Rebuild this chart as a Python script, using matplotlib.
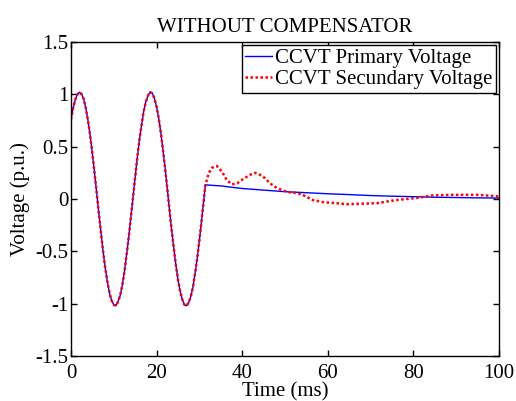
import matplotlib
matplotlib.use("Agg")
import matplotlib.pyplot as plt

plt.rcParams['font.family'] = ['Liberation Serif', 'DejaVu Serif']
plt.rcParams['font.size'] = 15

# Pre-fault waveform (both signals coincide), time in ms, voltage in p.u.
t_pre = [0.0, 0.5, 1.0, 1.5, 2.0, 2.5, 3.0, 3.5, 4.0, 4.5, 5.0, 5.5, 6.0, 6.5,
         7.0, 7.5, 8.0, 8.5, 9.0, 9.5, 10.0, 10.5, 11.0, 11.5, 12.0, 12.5,
         13.0, 13.5, 14.0, 14.5, 15.0, 15.5, 16.0, 16.5, 17.0, 17.5, 18.0,
         18.5, 19.0, 19.5, 20.0, 20.5, 21.0, 21.5, 22.0, 22.5, 23.0, 23.5,
         24.0, 24.5, 25.0, 25.5, 26.0, 26.5, 27.0, 27.5, 28.0, 28.5, 29.0,
         29.5, 30.0, 30.5, 31.0]
v_pre = [0.76, 0.87, 0.95, 1.00, 1.02, 1.00, 0.95, 0.86, 0.74, 0.60, 0.43,
         0.25, 0.06, -0.135, -0.32, -0.50, -0.66, -0.79, -0.90, -0.97, -1.01,
         -1.02, -0.98, -0.92, -0.82, -0.69, -0.53, -0.36, -0.17, 0.02, 0.21,
         0.40, 0.57, 0.71, 0.84, 0.93, 0.99, 1.02, 1.01, 0.96, 0.88, 0.77,
         0.63, 0.465, 0.29, 0.10, -0.10, -0.29, -0.465, -0.63, -0.77, -0.88,
         -0.96, -1.01, -1.02, -0.99, -0.93, -0.84, -0.71, -0.565, -0.395,
         -0.21, -0.02]

# Post-fault primary voltage
t_prim = [31.4, 35, 40, 45, 50, 55, 60, 65, 70, 75, 80, 85, 90, 95, 100]
v_prim = [0.135, 0.125, 0.10, 0.085, 0.07, 0.06, 0.05, 0.042, 0.033, 0.027,
          0.022, 0.017, 0.014, 0.011, 0.009]

# Post-fault secondary voltage
t_sec = [31.4, 32.2, 33.0, 34.1, 35.3, 36.4, 37.6, 38.8, 40.2, 41.8, 43.0,
         44.2, 45.3, 46.5, 48.1, 50.5, 52.8, 54.2, 56.5, 58.9, 62.0, 64.5,
         68.0, 71.5, 76.0, 80.8, 84.6, 89.0, 94.9, 100.0]
v_sec = [0.135, 0.25, 0.30, 0.315, 0.26, 0.18, 0.14, 0.15, 0.19, 0.23, 0.25,
         0.23, 0.20, 0.15, 0.105, 0.067, 0.057, 0.038, -0.01, -0.03, -0.04,
         -0.05, -0.045, -0.04, -0.01, 0.01, 0.035, 0.04, 0.04, 0.025]

fig = plt.figure(figsize=(5.16, 4.01), dpi=100)
ax = fig.add_axes([0.1376, 0.1122, 0.8294, 0.7831])

ax.plot(t_pre + t_prim, v_pre + v_prim, color='#0000ff', lw=1.0,
        label='CCVT Primary Voltage')
ax.plot(t_pre + t_sec, v_pre + v_sec, color='#ff0000', lw=1.8,
        linestyle=(0, (1, 1)), label='CCVT Secundary Voltage')

ax.set_xlim(0, 100)
ax.set_ylim(-1.5, 1.5)
ax.set_xticks([0, 20, 40, 60, 80, 100])
ax.set_yticks([-1.5, -1, -0.5, 0, 0.5, 1, 1.5])
ax.set_yticklabels(['-1.5', '-1', '-0.5', '0', '0.5', '1', '1.5'])
ax.tick_params(direction='in', top=True, right=True, length=4, width=1)
ax.tick_params(axis='x', pad=5.5)
ax.tick_params(axis='y', pad=2)
for s in ax.spines.values():
    s.set_linewidth(1.0)

ax.set_xlabel('Time (ms)', labelpad=0)
ax.set_ylabel('Voltage (p.u.)', labelpad=4)
ax.set_title('WITHOUT COMPENSATOR', fontsize=15, pad=7)

leg = ax.legend(loc='upper right', fancybox=False, edgecolor='black',
                framealpha=1, handlelength=1.3, handletextpad=0.15,
                borderaxespad=0.15, borderpad=0.15, labelspacing=0.1)
leg.get_frame().set_linewidth(1.0)

fig.savefig('out.png', dpi=100)
